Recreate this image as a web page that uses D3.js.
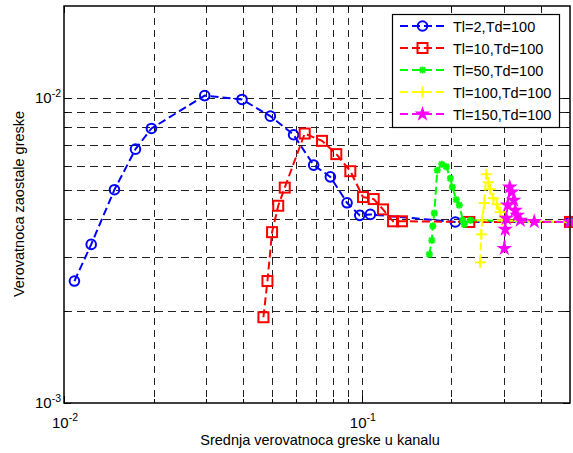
<!DOCTYPE html>
<html>
<head>
<meta charset="utf-8">
<script src="https://cdn.jsdelivr.net/npm/d3@7"></script>
<style>
  body { margin: 0; background: #fff; }
  svg { display: block; font-family: "Liberation Sans", Arial, sans-serif; }
</style>
</head>
<body>
<div class="chart"></div>
<script>
// series: x = mean channel error probability, y = residual error probability
var blueX  = [0.01084, 0.01234, 0.01477, 0.01738, 0.01966, 0.02968, 0.0396, 0.0493, 0.059, 0.0689, 0.0784, 0.0892, 0.0984, 0.1068, 0.206, 0.5];
var blueY  = [2.51e-3, 3.31e-3, 5.0e-3, 6.79e-3, 7.94e-3, 1.017e-2, 9.88e-3, 8.71e-3, 7.57e-3, 6.02e-3, 5.51e-3, 4.53e-3, 4.12e-3, 4.15e-3, 3.92e-3, 3.92e-3];

var redX   = [0.04673, 0.0482, 0.04996, 0.0524, 0.0551, 0.0643, 0.0735, 0.0821, 0.0915, 0.1009, 0.1096, 0.1178, 0.1273, 0.1364, 0.2295, 0.5];
var redY   = [1.91e-3, 2.51e-3, 3.63e-3, 4.43e-3, 5.08e-3, 7.64e-3, 7.23e-3, 6.54e-3, 5.75e-3, 4.73e-3, 4.66e-3, 4.31e-3, 3.94e-3, 3.94e-3, 3.92e-3, 3.92e-3];

var greenX = [0.1685, 0.1718, 0.1731, 0.1751, 0.1792, 0.1855, 0.1921, 0.1982, 0.2013, 0.2076, 0.2125, 0.2183, 0.2208, 0.2313, 0.5];
var greenY = [3.07e-3, 3.41e-3, 3.80e-3, 4.19e-3, 5.79e-3, 6.06e-3, 5.95e-3, 5.45e-3, 5.10e-3, 4.64e-3, 4.45e-3, 3.97e-3, 3.85e-3, 3.97e-3, 3.92e-3];

var yellowX = [0.2498, 0.2518, 0.2537, 0.2577, 0.2617, 0.2658, 0.2699, 0.2763, 0.2838, 0.2915, 0.2961, 0.5];
var yellowY = [2.89e-3, 3.57e-3, 3.97e-3, 4.52e-3, 5.62e-3, 5.29e-3, 5.02e-3, 4.69e-3, 4.48e-3, 4.22e-3, 3.97e-3, 3.92e-3];

var magX   = [0.3008, 0.3030, 0.3054, 0.3090, 0.3138, 0.3187, 0.3236, 0.3274, 0.3325, 0.3403, 0.3792, 0.5];
var magY   = [3.21e-3, 3.71e-3, 4.03e-3, 4.45e-3, 5.10e-3, 4.91e-3, 4.62e-3, 4.28e-3, 4.12e-3, 3.97e-3, 3.93e-3, 3.92e-3];

var seriesNames = ["Tl=2,Td=100", "Tl=10,Td=100", "Tl=50,Td=100", "Tl=100,Td=100", "Tl=150,Td=100"];

var xTickLabels = [["10", "-2"], ["10", "-1"]];
var yTickLabels = [["10", "-3"], ["10", "-2"]];

var xTitle = "Srednja verovatnoca greske u kanalu";
var yTitle = "Verovatnoca zaostale greske";

var width = 573, height = 453;
var pLeft = 64, pRight = 570, pTop = 6, pBottom = 403;

var svg = d3.select(".chart").append("svg")
    .attr("width", width)
    .attr("height", height);

var x = d3.scaleLog().domain([0.01, 0.5]).range([pLeft, pRight]);
var y = d3.scaleLog().domain([1e-3, 2e-2]).range([pBottom, pTop]);

// grid
var xGrid = [0.02, 0.03, 0.04, 0.05, 0.06, 0.07, 0.08, 0.09, 0.1, 0.2, 0.3, 0.4];
var yGrid = [0.002, 0.003, 0.004, 0.005, 0.006, 0.007, 0.008, 0.009, 0.01];

svg.append("g").selectAll("line").data(xGrid).enter().append("line")
    .attr("x1", function(d){ return Math.round(x(d)) + 0.5; })
    .attr("x2", function(d){ return Math.round(x(d)) + 0.5; })
    .attr("y1", pTop).attr("y2", pBottom)
    .style("stroke", "#222")
    .style("stroke-width", 1)
    .style("stroke-dasharray", "7,5");

svg.append("g").selectAll("line").data(yGrid).enter().append("line")
    .attr("y1", function(d){ return Math.round(y(d)) + 0.5; })
    .attr("y2", function(d){ return Math.round(y(d)) + 0.5; })
    .attr("x1", pLeft).attr("x2", pRight)
    .style("stroke", "#222")
    .style("stroke-width", 1)
    .style("stroke-dasharray", "8,5");

// ticks, inward on all four sides
var xMajor = [0.01, 0.1];
var yMajor = [0.001, 0.01];
function tickLen(d, majors){ return majors.indexOf(d) >= 0 ? 7 : 4; }

var ticks = svg.append("g").style("stroke", "#000").style("stroke-width", 1);
xGrid.concat([0.01]).forEach(function(d){
    var px = Math.round(x(d)) + 0.5, l = tickLen(d, xMajor);
    ticks.append("line").attr("x1", px).attr("x2", px).attr("y1", pBottom).attr("y2", pBottom - l);
    ticks.append("line").attr("x1", px).attr("x2", px).attr("y1", pTop).attr("y2", pTop + l);
});
yGrid.concat([0.001]).forEach(function(d){
    var py = Math.round(y(d)) + 0.5, l = tickLen(d, yMajor);
    ticks.append("line").attr("y1", py).attr("y2", py).attr("x1", pLeft).attr("x2", pLeft + l);
    ticks.append("line").attr("y1", py).attr("y2", py).attr("x1", pRight).attr("x2", pRight - l);
});

// tick labels
svg.append("g").selectAll("text").data(xMajor).enter().append("text")
    .attr("x", function(d){ return x(d) + 1; })
    .attr("y", 428)
    .attr("text-anchor", "middle")
    .style("font-size", "15px")
    .each(function(d, i){
        var t = d3.select(this);
        t.append("tspan").text(xTickLabels[i][0]);
        t.append("tspan").attr("dy", -7).style("font-size", "10.5px").text(xTickLabels[i][1]);
    });

svg.append("g").selectAll("text").data(yMajor).enter().append("text")
    .attr("x", 61)
    .attr("y", function(d){ return y(d) + 5; })
    .attr("text-anchor", "end")
    .style("font-size", "15px")
    .each(function(d, i){
        var t = d3.select(this);
        t.append("tspan").text(yTickLabels[i][0]);
        t.append("tspan").attr("dy", -6).style("font-size", "10.5px").text(yTickLabels[i][1]);
    });

// axis titles
svg.append("text")
    .attr("x", 320).attr("y", 445)
    .attr("text-anchor", "middle")
    .style("font-size", "14.5px")
    .text(xTitle);

svg.append("text")
    .attr("transform", "translate(24,204) rotate(-90)")
    .attr("text-anchor", "middle")
    .style("font-size", "14.5px")
    .text(yTitle);

// series
var series = [
    { xs: blueX,   ys: blueY,   color: "#0000ff", marker: "circle" },
    { xs: redX,    ys: redY,    color: "#ff0000", marker: "square" },
    { xs: greenX,  ys: greenY,  color: "#00ff00", marker: "asterisk" },
    { xs: yellowX, ys: yellowY, color: "#ffff00", marker: "plus" },
    { xs: magX,    ys: magY,    color: "#ff00ff", marker: "star" }
];

function drawMarker(g, type, color, cx, cy){
    if(type === "circle"){
        g.append("circle").attr("cx", cx).attr("cy", cy).attr("r", 4.8)
            .style("fill", "none").style("stroke", color).style("stroke-width", 2);
    }else if(type === "square"){
        g.append("rect").attr("x", cx - 5).attr("y", cy - 5).attr("width", 10).attr("height", 10)
            .style("fill", "none").style("stroke", color).style("stroke-width", 2);
    }else if(type === "asterisk"){
        var s = 3.5;
        [[-s, 0, s, 0], [0, -s, 0, s], [-s*0.75, -s*0.75, s*0.75, s*0.75], [-s*0.75, s*0.75, s*0.75, -s*0.75]].forEach(function(p){
            g.append("line").attr("x1", cx + p[0]).attr("y1", cy + p[1]).attr("x2", cx + p[2]).attr("y2", cy + p[3])
                .style("stroke", color).style("stroke-width", 2);
        });
    }else if(type === "plus"){
        var p = 5.5;
        g.append("line").attr("x1", cx - p).attr("x2", cx + p).attr("y1", cy).attr("y2", cy)
            .style("stroke", color).style("stroke-width", 2);
        g.append("line").attr("x1", cx).attr("x2", cx).attr("y1", cy - p).attr("y2", cy + p)
            .style("stroke", color).style("stroke-width", 2);
    }else if(type === "star"){
        g.append("path").attr("transform", "translate(" + cx + "," + cy + ")")
            .attr("d", d3.symbol().type(d3.symbolStar).size(28)())
            .style("fill", color).style("stroke", color).style("stroke-width", 2);
    }
}

var line = d3.line()
    .x(function(d){ return x(d[0]); })
    .y(function(d){ return y(d[1]); });

series.forEach(function(s){
    var pts = s.xs.map(function(v, i){ return [v, s.ys[i]]; });
    var g = svg.append("g");
    g.append("path")
        .attr("d", line(pts))
        .style("fill", "none")
        .style("stroke", s.color)
        .style("stroke-width", 2)
        .style("stroke-dasharray", "8,4");
    pts.forEach(function(p){ drawMarker(g, s.marker, s.color, x(p[0]), y(p[1])); });
});

// axes box
svg.append("rect")
    .attr("x", pLeft).attr("y", pTop)
    .attr("width", pRight - pLeft).attr("height", pBottom - pTop)
    .style("fill", "none")
    .style("stroke", "#000")
    .style("stroke-width", 1.5);

// legend
var lg = svg.append("g");
lg.append("rect")
    .attr("x", 392.5).attr("y", 14.5).attr("width", 167).attr("height", 113)
    .style("fill", "#fff").style("stroke", "#000").style("stroke-width", 1.2);

var rowY = d3.scalePoint().domain(d3.range(seriesNames.length)).range([26, 114]);
seriesNames.forEach(function(name, i){
    var yy = rowY(i), s = series[i];
    lg.append("line").attr("x1", 400).attr("x2", 445).attr("y1", yy).attr("y2", yy)
        .style("stroke", s.color).style("stroke-width", 2).style("stroke-dasharray", "8,4");
    drawMarker(lg, s.marker, s.color, 422.5, yy);
    lg.append("text").attr("x", 453).attr("y", yy + 5.5)
        .style("font-size", "14.5px").text(name);
});
</script>
</body>
</html>
